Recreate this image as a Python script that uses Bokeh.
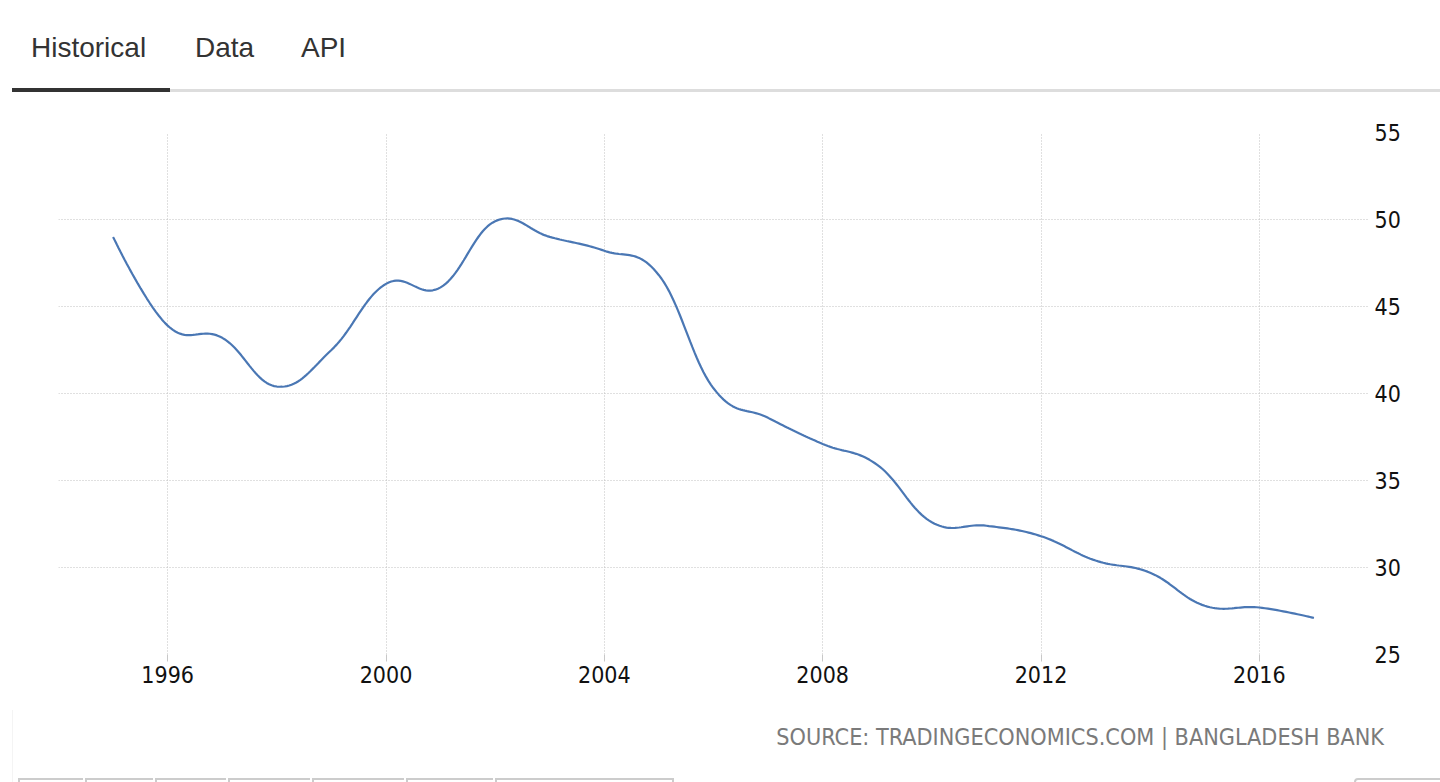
from bokeh.plotting import figure
from bokeh.models import Div, FixedTicker, ColumnDataSource
from bokeh.layouts import column
from bokeh.embed import file_html
from bokeh.resources import INLINE

# ---- data ----
years = list(range(1995, 2018))
values = [49.0, 43.9, 43.2, 40.4, 42.5, 46.3, 46.1, 49.9, 49.0, 48.2, 46.8, 40.3,
          38.6, 37.1, 35.9, 32.6, 32.4, 31.8, 30.4, 29.7, 27.8, 27.7, 27.1]
x_ticks = [1996, 2000, 2004, 2008, 2012, 2016]
y_ticks = [25, 30, 35, 40, 45, 50, 55]
tabs = ["Historical", "Data", "API"]
source_text = "SOURCE: TRADINGECONOMICS.COM | BANGLADESH BANK"


def spline(xs, ys, smoothing=1.5, n=24):
    """Smoothed (cardinal-style) path through the data points."""
    N = len(xs)
    left = [(xs[i], ys[i]) for i in range(N)]
    right = [(xs[i], ys[i]) for i in range(N)]
    d = smoothing + 1
    for i in range(1, N - 1):
        x, y = xs[i], ys[i]
        lx, ly = xs[i - 1], ys[i - 1]
        nx, ny = xs[i + 1], ys[i + 1]
        lcx = (smoothing * x + lx) / d
        lcy = (smoothing * y + ly) / d
        rcx = (smoothing * x + nx) / d
        rcy = (smoothing * y + ny) / d
        corr = 0.0
        if rcx != lcx:
            corr = ((rcy - lcy) * (rcx - x)) / (rcx - lcx) + y - rcy
        left[i] = (lcx, lcy + corr)
        right[i] = (rcx, rcy + corr)
    px, py = [xs[0]], [ys[0]]
    for i in range(1, N):
        p0 = (xs[i - 1], ys[i - 1]); p1 = right[i - 1]; p2 = left[i]; p3 = (xs[i], ys[i])
        for k in range(1, n + 1):
            t = k / n
            a = (1 - t) ** 3; b = 3 * (1 - t) ** 2 * t; c = 3 * (1 - t) * t ** 2; e = t ** 3
            px.append(a * p0[0] + b * p1[0] + c * p2[0] + e * p3[0])
            py.append(a * p0[1] + b * p1[1] + c * p2[1] + e * p3[1])
    return px, py


sx, sy = spline([float(v) for v in years], values)
src = ColumnDataSource(dict(x=sx, y=sy))

p = figure(width=1440, height=618, output_backend="svg", toolbar_location=None,
           x_range=(1994.0, 2018.0), y_range=(25, 55), y_axis_location="right",
           min_border_left=58, min_border_right=72, min_border_top=40, min_border_bottom=56,
           margin=0)
p.outline_line_color = None
p.background_fill_color = "white"
p.border_fill_color = "white"

p.line("x", "y", source=src, line_color="#4a77b4", line_width=2.2)

for g in (p.xgrid[0], p.ygrid[0]):
    g.grid_line_color = "#c0c0c0"
    g.grid_line_dash = "1 2"
    g.grid_line_width = 1
p.xgrid[0].ticker = FixedTicker(ticks=x_ticks)
p.ygrid[0].ticker = FixedTicker(ticks=y_ticks)

xa = p.xaxis[0]
xa.ticker = FixedTicker(ticks=x_ticks)
xa.axis_line_color = None
xa.major_tick_line_color = "#c8c8c8"
xa.major_tick_out = 7
xa.major_tick_in = 0
xa.minor_tick_line_color = None
xa.major_label_standoff = 4
xa.major_label_text_font = "DejaVu Sans Condensed"
xa.major_label_text_font_size = "23px"
xa.major_label_text_color = "#111111"

ya = p.yaxis[0]
ya.ticker = FixedTicker(ticks=y_ticks)
ya.axis_line_color = None
ya.major_tick_line_color = None
ya.major_tick_out = 0
ya.major_tick_in = 0
ya.minor_tick_line_color = None
ya.major_label_standoff = 6
ya.major_label_text_font = "DejaVu Sans Condensed"
ya.major_label_text_font_size = "23px"
ya.major_label_text_color = "#111111"

tab_left = [31, 195, 301]
spans = "".join(
    f'<span style="position:absolute;left:{l}px;top:34px;font-size:28px;line-height:28px;'
    f'color:#333333;white-space:nowrap;">{t}</span>'
    for t, l in zip(tabs, tab_left))
tab_html = (
    '<div style="position:relative;width:1440px;height:92px;overflow:hidden;'
    'font-family:\'Liberation Sans\',Arial,sans-serif;">'
    + spans +
    '<div style="position:absolute;left:170px;top:89px;width:1270px;height:3px;background:#dddddd;"></div>'
    '<div style="position:absolute;left:12px;top:88px;width:158px;height:4px;background:#333333;"></div>'
    '</div>')
div_top = Div(text=tab_html, width=1440, height=92, margin=0)

cells = [18, 85, 155, 228, 312, 406, 495, 674]
cell_html = "".join(
    f'<div style="position:absolute;left:{a}px;top:68px;width:{b - a - 2}px;height:6px;'
    f'border-top:2px solid #cccccc;border-left:2px solid #cccccc;"></div>'
    for a, b in zip(cells[:-1], cells[1:]))
cell_html += (f'<div style="position:absolute;left:{cells[-1] - 2}px;top:68px;width:0px;height:6px;'
              'border-left:2px solid #cccccc;"></div>')
src_html = (
    '<div style="position:relative;width:1440px;height:72px;overflow:hidden;">'
    '<div style="position:absolute;left:12px;top:0px;width:1px;height:72px;background:#f4f4f4;"></div>'
    f'<span style="position:absolute;right:56px;top:15px;font-family:\'DejaVu Sans Condensed\',sans-serif;'
    f'font-size:23.2px;line-height:23px;color:#7a7a7a;white-space:nowrap;">{source_text}</span>'
    + cell_html +
    '<div style="position:absolute;left:1354px;top:68px;width:100px;height:20px;'
    'border:2px solid #cccccc;border-radius:4px;"></div>'
    '</div>')
div_bot = Div(text=src_html, width=1440, height=72, margin=0)

layout = column(div_top, p, div_bot, spacing=0)
open("out.html", "w").write(file_html(layout, INLINE))
